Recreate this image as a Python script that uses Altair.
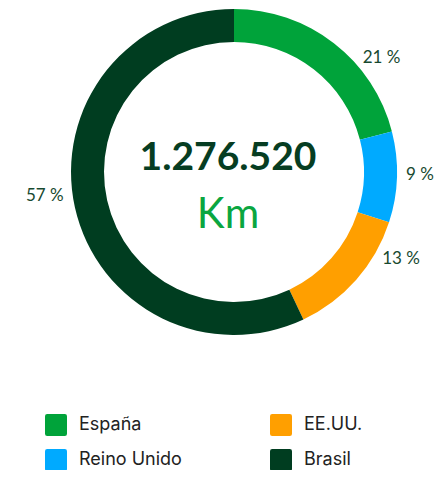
import altair as alt
import pandas as pd

categories = ["España", "Reino Unido", "EE.UU.", "Brasil"]
values = [21, 9, 13, 57]
labels = ["21 %", "9 %", "13 %", "57 %"]
colors = ["#00a33a", "#00aaff", "#ff9f00", "#003d20"]
legend_order = ["España", "EE.UU.", "Reino Unido", "Brasil"]
total_text = "1.276.520"
unit_text = "Km"

df = pd.DataFrame({"cat": categories, "val": values, "lab": labels, "idx": list(range(len(categories)))})
cmap = dict(zip(categories, colors))

CX, CY = 226, 164
R_LAB = 172
PULL = 11
FONT = "Inter"
NUMFONT = "Lato"
ROUND_SQ = "M-0.8,-1 H0.8 Q1,-1 1,-0.8 V0.8 Q1,1 0.8,1 H-0.8 Q-1,1 -1,0.8 V-0.8 Q-1,-1 -0.8,-1 Z"

color = alt.Color("cat:N", scale=alt.Scale(domain=legend_order, range=[cmap[c] for c in legend_order]),
                  legend=alt.Legend(title=None, orient="none", legendX=37, legendY=406,
                                    columns=2, symbolType=ROUND_SQ, symbolSize=484,
                                    symbolStrokeWidth=0, labelFontSize=18, labelFont=FONT,
                                    labelColor="#222222", labelOffset=12, columnPadding=88,
                                    rowPadding=13, direction="horizontal"))

base = alt.Chart(df).encode(
    theta=alt.Theta("val:Q", stack=True),
    order=alt.Order("idx:Q"),
    x=alt.value(CX),
    y=alt.value(CY),
)
arcs = base.mark_arc(outerRadius=163, innerRadius=130, strokeWidth=0).encode(color=color)

lab = alt.Chart(df).transform_window(
    cum="sum(val)", frame=[None, 0], sort=[alt.SortField("idx")]
).transform_joinaggregate(
    tot="sum(val)"
).transform_calculate(
    mid="(datum.cum - datum.val / 2) / datum.tot * 2 * PI"
).transform_calculate(
    a2=f"datum.mid + {PULL} * PI / 180 * sin(2 * datum.mid)"
).transform_calculate(
    lx=f"{CX} + {R_LAB} * sin(datum.a2)",
    ly=f"{CY} - {R_LAB} * cos(datum.a2)",
    right="sin(datum.a2) >= 0",
).encode(
    x=alt.X("lx:Q", scale=None),
    y=alt.Y("ly:Q", scale=None),
    text="lab:N",
)
lab_r = lab.transform_filter("datum.right").mark_text(align="left", baseline="middle", font=NUMFONT,
                                                      fontSize=17, color="#17492f")
lab_l = lab.transform_filter("!datum.right").mark_text(align="right", baseline="middle", font=NUMFONT,
                                                       fontSize=17, color="#17492f")

center = alt.Chart(pd.DataFrame({"t": [total_text], "u": [unit_text]}))
t1 = center.mark_text(font=NUMFONT, fontSize=39, fontWeight="bold", color="#063d22", baseline="alphabetic").encode(
    text="t:N", x=alt.value(CX - 6), y=alt.value(CY - 2))
t2 = center.mark_text(font=NUMFONT, fontSize=42, color="#0aa640", baseline="alphabetic").encode(
    text="u:N", x=alt.value(CX - 6), y=alt.value(CY + 56))

chart = alt.layer(arcs, lab_r, lab_l, t1, t2).properties(
    width=427, height=462, padding=0, autosize=alt.AutoSizeParams(type="none")
).configure_view(stroke=None)
chart.save("out.html", embed_options={"renderer": "svg", "actions": False})
